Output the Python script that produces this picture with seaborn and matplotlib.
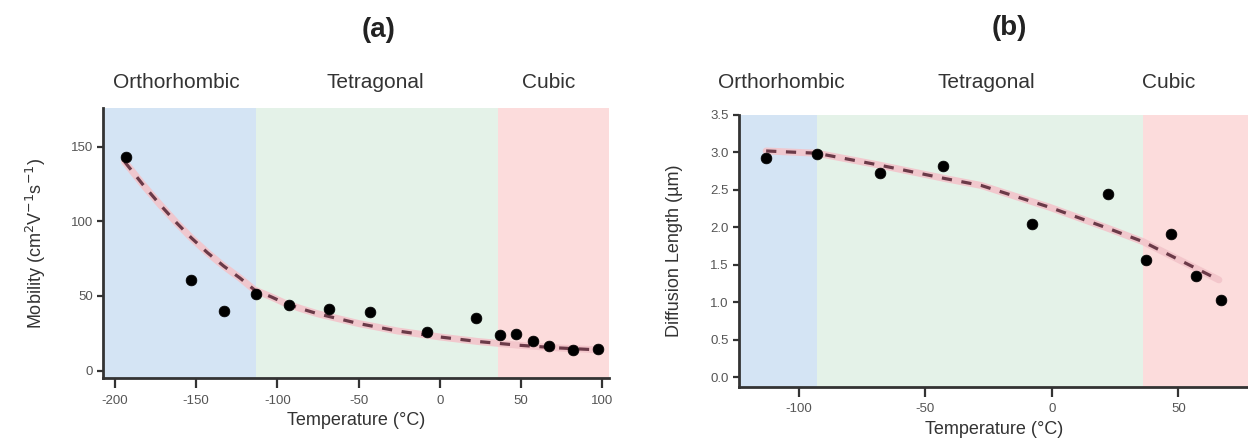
import matplotlib
matplotlib.use("Agg")
import matplotlib.pyplot as plt
import seaborn as sns
import pandas as pd
from matplotlib.ticker import FormatStrFormatter

# ---------------- data ----------------
temp_a = [-193, -153, -133, -113, -93, -68, -43, -8, 22, 37, 47, 57, 67, 82, 97]
mobility = [143, 61, 40, 51.5, 44, 41, 39, 25.7, 35, 24, 24.8, 19.6, 16.2, 14, 14.6]

fit_temp_a = [-194, -183, -172, -162, -153, -143, -133, -123, -114, -104, -95, -85,
              -75, -50, -26, 0, 23, 48, 72, 98]
fit_mobility = [140, 125, 111, 99, 89, 79, 70, 62, 54, 49.5, 45, 41.3,
                38, 31.5, 26.5, 22.5, 19.5, 17, 15.2, 13.8]

temp_b = [-113, -93, -68, -43, -8, 22, 37, 47, 57, 67]
diffusion = [2.92, 2.98, 2.73, 2.82, 2.05, 2.45, 1.57, 1.91, 1.35, 1.03]

fit_temp_b = [-113, -93, -68, -42, -28, -1, 22, 36, 66]
fit_diffusion = [3.02, 2.99, 2.83, 2.65, 2.56, 2.27, 1.99, 1.81, 1.30]

phases = ["Orthorhombic", "Tetragonal", "Cubic"]
phase_bounds = [-113, 36]          # orthorhombic/tetragonal, tetragonal/cubic (a)
phase_bounds_b = [-93, 36]         # (b)
phase_colors = ["#d4e4f4", "#e4f2e8", "#fcdcdc"]

# ---------------- style ----------------
sns.set_theme(style="ticks")
plt.rcParams["font.family"] = ["Liberation Sans", "DejaVu Sans"]
plt.rcParams["axes.unicode_minus"] = False

fig = plt.figure(figsize=(12.48, 4.45), dpi=100)
ax_a = fig.add_axes([0.0829, 0.1506, 0.405, 0.6067])
ax_b = fig.add_axes([0.5924, 0.131, 0.4076, 0.6106])

spine_color = "#333333"
text_color = "#333333"
tick_color = "#555555"


def style_axes(ax):
    for s in ["top", "right"]:
        ax.spines[s].set_visible(False)
    for s in ["left", "bottom"]:
        ax.spines[s].set_color(spine_color)
        ax.spines[s].set_linewidth(2.0)
    ax.tick_params(axis="x", direction="out", length=7, width=1.6,
                   color=spine_color, labelsize=9.5, labelcolor=tick_color, pad=5)
    ax.tick_params(axis="y", direction="out", length=4.5, width=1.6,
                   color=spine_color, labelsize=9.5, labelcolor=tick_color, pad=3)
    ax.grid(False)


def draw_fit(ax, x, y):
    df = pd.DataFrame({"x": x, "y": y})
    sns.lineplot(data=df, x="x", y="y", ax=ax, color="#f3c4ca", lw=5,
                 alpha=0.9, zorder=3, sort=False)
    sns.lineplot(data=df, x="x", y="y", ax=ax, color="#6b3a48", lw=2.3,
                 dashes=False, zorder=4, sort=False, linestyle=(0, (3.2, 3.0)))


def draw_points(ax, x, y):
    df = pd.DataFrame({"x": x, "y": y})
    sns.scatterplot(data=df, x="x", y="y", ax=ax, color="black", s=60,
                    edgecolor="black", linewidth=0.5, zorder=5)


# ---------------- panel (a) ----------------
xlim_a = (-207, 104)
ylim_a = (-5, 176)
ax_a.set_xlim(*xlim_a)
ax_a.set_ylim(*ylim_a)
edges_a = [xlim_a[0]] + phase_bounds + [xlim_a[1]]
for i in range(3):
    ax_a.axvspan(edges_a[i], edges_a[i + 1], color=phase_colors[i], lw=0, zorder=0)
draw_fit(ax_a, fit_temp_a, fit_mobility)
draw_points(ax_a, temp_a, mobility)
style_axes(ax_a)
ax_a.set_xticks([-200, -150, -100, -50, 0, 50, 100])
ax_a.set_yticks([0, 50, 100, 150])
ax_a.set_xlabel("Temperature (°C)", fontsize=13, color=text_color)
ax_a.set_ylabel(r"Mobility (cm$^{2}$V$^{-1}$s$^{-1}$)", fontsize=13, color=text_color)
ax_a.xaxis.set_label_coords(0.5, -0.125)
ax_a.yaxis.set_label_coords(-0.11, 0.5)

tr_a = ax_a.get_xaxis_transform()
for name, xpos in zip(phases, [-162, -40, 67]):
    ax_a.text(xpos, 1.095, name, transform=tr_a, ha="center", va="center",
              fontsize=15, color=text_color)
ax_a.text(-38, 1.29, "(a)", transform=tr_a, ha="center", va="center",
          fontsize=20, fontweight="bold", color="#222222")

# ---------------- panel (b) ----------------
xlim_b = (-123.6, 77.5)
ylim_b = (-0.125, 3.5)
ax_b.set_xlim(*xlim_b)
ax_b.set_ylim(*ylim_b)
edges_b = [xlim_b[0]] + phase_bounds_b + [xlim_b[1]]
for i in range(3):
    ax_b.axvspan(edges_b[i], edges_b[i + 1], color=phase_colors[i], lw=0, zorder=0)
draw_fit(ax_b, fit_temp_b, fit_diffusion)
draw_points(ax_b, temp_b, diffusion)
style_axes(ax_b)
ax_b.set_xticks([-100, -50, 0, 50])
ax_b.set_yticks([0.0, 0.5, 1.0, 1.5, 2.0, 2.5, 3.0, 3.5])
ax_b.yaxis.set_major_formatter(FormatStrFormatter("%.1f"))
ax_b.set_xlabel("Temperature (°C)", fontsize=13, color=text_color)
ax_b.set_ylabel("Diffusion Length (µm)", fontsize=13, color=text_color)
ax_b.xaxis.set_label_coords(0.5, -0.125)
ax_b.yaxis.set_label_coords(-0.11, 0.5)

tr_b = ax_b.get_xaxis_transform()
for name, xpos in zip(phases, [-107, -26, 46]):
    ax_b.text(xpos, 1.12, name, transform=tr_b, ha="center", va="center",
              fontsize=15, color=text_color)
ax_b.text(-17, 1.32, "(b)", transform=tr_b, ha="center", va="center",
          fontsize=20, fontweight="bold", color="#222222")

fig.savefig("out.png", dpi=100)
